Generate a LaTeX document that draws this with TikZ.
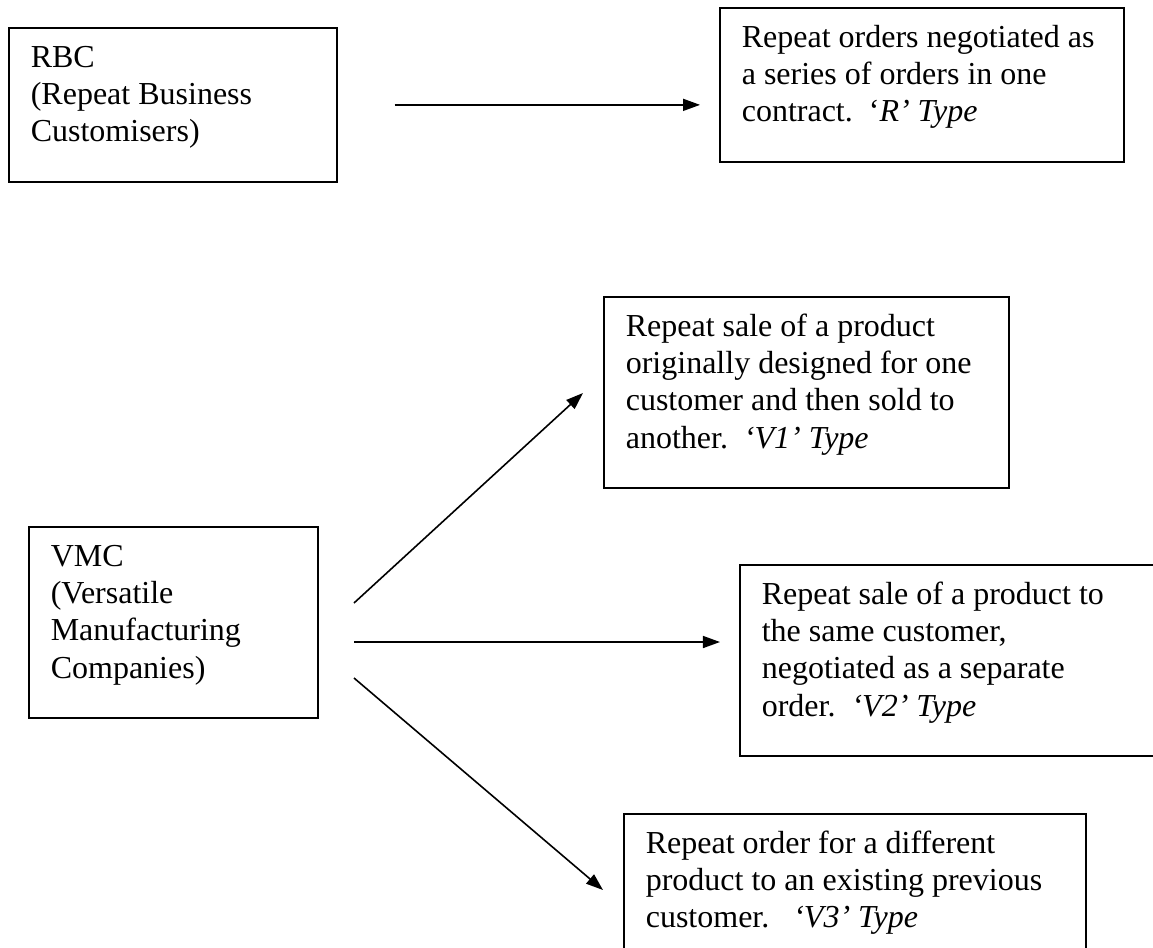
\documentclass[tikz,border=0pt]{standalone}
\usepackage{fontspec}
\setmainfont{Liberation Serif}
\usetikzlibrary{positioning,arrows.meta,calc}

\tikzset{
  card/.style={draw, line width=0.6pt, anchor=north west, align=flush left,
    inner xsep=8.25pt, inner ysep=0pt,
    font=\fontsize{12}{13.9}\selectfont,
    execute at begin node={\rule{0pt}{15pt}},
    execute at end node={\rule[-15pt]{0pt}{0pt}}},
  link/.style={line width=0.6pt, -{Triangle[length=6.4pt,width=4.5pt]}}
}

\begin{document}
\begin{tikzpicture}[x=0.375pt, y=-0.375pt]
  \useasboundingbox (0,0) rectangle (1153,947);
  \clip (0,0) rectangle (1153,947);
  % RBC row
  \node[card, text width=106.5pt] (rbc) at (8,27) {RBC\\(Repeat Business\\Customisers)};
  \node[card, text width=135pt] (rtype) at (719,7) {Repeat orders negotiated as\\a series of orders in one\\contract.~~‘\textit{R’ Type}};
  \draw[link, shorten <=21.4pt, shorten >=7.1pt] (rbc.east) -- (rbc.east -| rtype.west);
  % VMC and its three types
  \node[card, text width=91.9pt] (vmc) at (28,526) {VMC\\(Versatile\\Manufacturing\\Companies)};
  \node[card, text width=135.4pt] (v1) at (603,296) {Repeat sale of a product\\originally designed for one\\customer and then sold to\\another.~~\textit{‘V1’ Type}};
  \node[card, text width=139pt] (v2) at (739,564) {Repeat sale of a product to\\the same customer,\\negotiated as a separate\\order.~~\textit{‘V2’ Type}};
  \node[card, text width=156.75pt] (v3) at (623,813) {Repeat order for a different\\product to an existing previous\\customer.~~~\textit{‘V3’ Type}};
  \coordinate (vmcup) at (354,603);
  \coordinate (vmcmid) at (354,642);
  \coordinate (vmclow) at (354,678);
  \coordinate (v1in) at (583,393);
  \coordinate (v2in) at (720,642);
  \coordinate (v3in) at (603,890);
  \draw[link] (vmcup) -- (v1in);
  \draw[link] (vmcmid) -- (v2in);
  \draw[link] (vmclow) -- (v3in);
\end{tikzpicture}
\end{document}
